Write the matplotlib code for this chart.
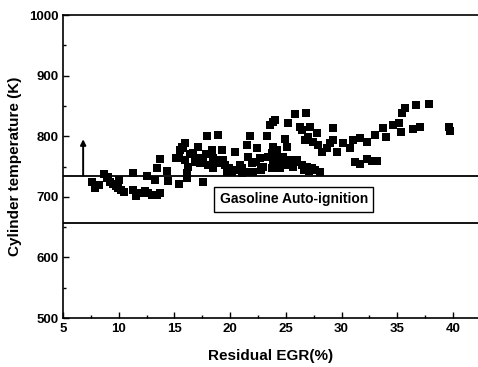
import matplotlib
matplotlib.use("Agg")
import matplotlib.pyplot as plt
from matplotlib.ticker import MultipleLocator

plt.rcParams['font.family'] = ['Liberation Sans', 'DejaVu Sans']

egr = [7.60, 7.87, 8.23, 8.68, 8.95, 9.22, 9.49, 9.76, 9.94, 10.21, 10.48,
       11.28, 11.28, 11.55, 11.91, 12.36, 12.63, 12.99, 13.44, 13.71, 12.54, 13.26,
       13.44, 13.71, 14.34, 14.43, 15.14, 15.41, 15.50, 15.68, 15.41, 15.95, 16.22, 16.13,
       15.95, 15.77, 16.13, 16.67, 17.12, 17.93, 18.91, 18.38, 17.57, 17.30, 18.02, 18.47,
       17.57, 17.03, 18.47, 18.82, 19.27, 19.36, 19.54, 19.72, 20.17, 20.44, 20.62, 21.07,
       21.07, 21.34, 21.52, 21.79, 21.61, 21.97, 22.06, 22.41, 22.68, 22.95, 23.31, 23.58,
       23.85, 23.40, 23.76, 24.03, 24.48, 24.48, 24.75, 23.76,
       24.03, 25.20, 25.83, 26.81, 26.27, 26.45, 27.17, 27.80, 29.24, 23.85, 24.21, 24.93,
       25.11, 26.72, 26.99, 27.44, 27.89, 28.25, 28.70, 28.97, 29.24, 29.60, 30.13, 30.76,
       31.03, 31.66, 32.29, 33.01, 31.21, 31.66, 32.29, 32.74, 33.19,
       23.58, 24.21, 24.75, 25.38, 26.01, 26.45, 26.90, 27.35, 27.62, 28.07, 24.48, 23.85,
       25.11, 25.65,
       33.73, 34.00, 34.62, 35.16, 35.34, 35.43, 35.70, 36.69, 37.86, 36.42, 37.05, 39.65, 39.74,
       16.8, 17.8, 18.6, 19.9, 20.9, 22.3, 22.8, 25.9, 26.6, 27.1, 16.4, 10.0, 9.0]

temp = [724, 715, 719.5, 737.6, 731, 724, 721, 717.8, 715, 711, 708,
        739, 711, 701, 706, 709.6, 706, 703, 703, 706, 734, 728,
        747.5, 762.4, 742.6, 726, 764, 721, 777, 782, 764, 761, 749, 739,
        788.8, 780.5, 731, 772, 782, 800, 802, 777, 764, 756, 752.5, 747.5,
        724, 764, 764, 756, 777, 760.8, 752.5, 741, 741, 774, 744, 747.5,
        739, 741, 785.5, 800, 766, 756, 741, 780.5, 764, 749, 800, 818.5,
        823.5, 766, 747.5, 757.5, 766, 747.5, 752.5, 772,
        827, 822, 837, 838, 815, 810, 815, 805, 813.5, 782, 777, 795.4,
        782, 794, 799, 790.5, 785.5, 774, 780.5, 789, 794, 774, 789, 780.5,
        794, 797, 790.5, 802, 757.5, 754, 762, 759, 759,
        766, 764, 766, 761, 761, 752.5, 749, 747.5, 744, 741, 757.5, 752.5,
        752.5, 749,
        813.5, 799, 818.5, 822, 807, 838, 846.5, 851.5, 853, 812, 815, 815, 808,
        758, 770, 760, 748, 752, 758, 745, 757, 745, 743, 770, 727, 733]

autoignition_upper = 735
autoignition_lower = 657
arrow_x = 6.8
arrow_top = 795
box_label = "Gasoline Auto-ignition"

fig = plt.figure(figsize=(4.78, 3.67), dpi=100)
ax = fig.add_axes([0.132, 0.1335, 0.868, 0.8255])

ax.scatter(egr, temp, marker='s', s=28, color='black', linewidths=0, zorder=3)
ax.axhline(autoignition_upper, color='black', lw=1.3, zorder=2)
ax.axhline(autoignition_lower, color='black', lw=1.3, zorder=2)
ax.annotate('', xy=(arrow_x, arrow_top), xytext=(arrow_x, autoignition_upper),
            arrowprops=dict(arrowstyle='-|>', color='black', lw=1.4,
                            mutation_scale=8, shrinkA=0, shrinkB=0))
ax.text(25.7, 696, box_label, ha='center', va='center', fontsize=10,
        fontweight='bold',
        bbox=dict(boxstyle='square,pad=0.4', facecolor='white',
                  edgecolor='black', lw=1.0))

ax.set_xlim(5, 42.25)
ax.set_ylim(500, 1000)
ax.xaxis.set_major_locator(MultipleLocator(5))
ax.xaxis.set_minor_locator(MultipleLocator(2.5))
ax.yaxis.set_major_locator(MultipleLocator(100))
ax.yaxis.set_minor_locator(MultipleLocator(50))
ax.tick_params(which='both', direction='in', top=False, right=False,
               labelsize=9.5, width=1.0)
ax.tick_params(which='major', length=4)
ax.tick_params(which='minor', length=2)
for lab in ax.get_xticklabels() + ax.get_yticklabels():
    lab.set_fontweight('bold')
ax.spines['right'].set_visible(False)
for s in ['left', 'bottom', 'top']:
    ax.spines[s].set_linewidth(1.2)

ax.set_xlabel('Residual EGR(%)', fontsize=11, fontweight='bold', labelpad=10)
ax.set_ylabel('Cylinder temperature (K)', fontsize=11, fontweight='bold', labelpad=5)

fig.savefig('out.png', dpi=100)
